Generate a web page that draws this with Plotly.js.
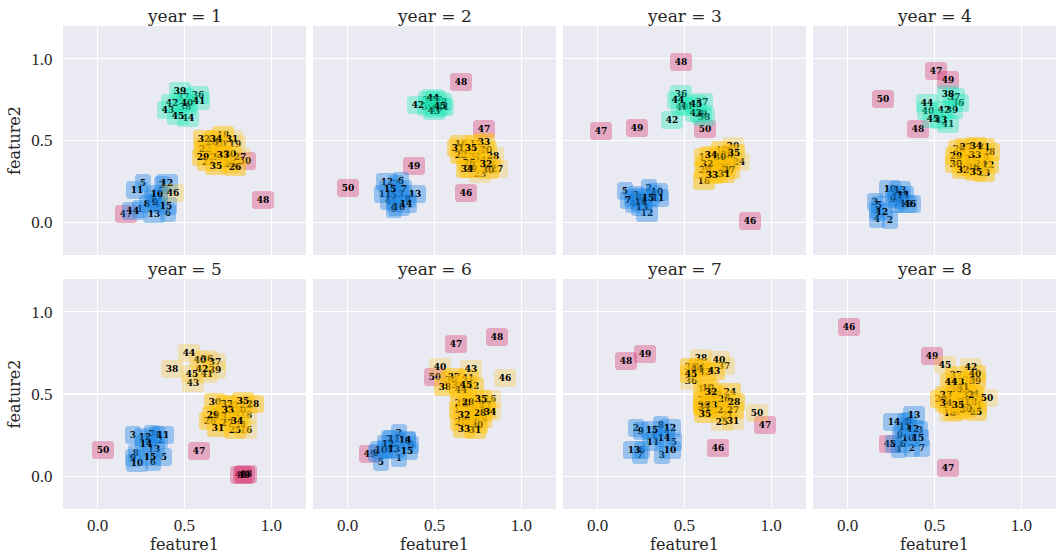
<!DOCTYPE html>
<html>
<head>
<meta charset="utf-8">
<script src="https://cdn.plot.ly/plotly-3.0.1.min.js"></script>
<style>
  html, body { margin: 0; padding: 0; background: #ffffff; }
  #chart { width: 1056px; height: 554px; }
</style>
</head>
<body>
<div id="chart"></div>
<script>
// Point identifiers, shown inside every box
const ids = [1, 2, 3, 4, 5, 6, 7, 8, 9, 10, 11, 12, 13, 14, 15, 16, 17, 18, 19, 20,
             21, 22, 23, 24, 25, 26, 27, 28, 29, 30, 31, 32, 33, 34, 35, 36, 37, 38, 39, 40,
             41, 42, 43, 44, 45, 46, 47, 48, 49, 50];
const years = [1, 2, 3, 4, 5, 6, 7, 8];

// Cluster code per point: b / y / g = cluster, p = weak member, r = noise
const year1X = [0.245, 0.369, 0.312, 0.340, 0.260, 0.407, 0.359, 0.283, 0.331, 0.340,
                0.229, 0.402, 0.327, 0.206, 0.392, 0.627, 0.665, 0.719, 0.790, 0.704,
                0.637, 0.618, 0.742, 0.685, 0.761, 0.792, 0.818, 0.656, 0.604, 0.765,
                0.771, 0.612, 0.719, 0.681, 0.679, 0.576, 0.493, 0.503, 0.474, 0.512,
                0.581, 0.430, 0.407, 0.522, 0.465, 0.432, 0.164, 0.952, 0.700, 0.847];
const year1Y = [0.084, 0.226, 0.145, 0.114, 0.240, 0.057, 0.155, 0.110, 0.124, 0.175,
                0.196, 0.242, 0.053, 0.069, 0.100, 0.460, 0.430, 0.532, 0.481, 0.481,
                0.369, 0.450, 0.379, 0.399, 0.358, 0.338, 0.399, 0.491, 0.399, 0.420,
                0.507, 0.511, 0.413, 0.511, 0.344, 0.776, 0.766, 0.705, 0.800, 0.731,
                0.741, 0.731, 0.686, 0.640, 0.650, 0.179, 0.051, 0.138, 0.420, 0.373];
const year1Cluster = "bbbbbbbbbbbbbbb yyypyyyyyyypyyypyyyy gggggggggg prrrr";

const year2X = [0.265, 0.279, 0.308, 0.231, 0.269, 0.304, 0.323, 0.346, 0.269, 0.298,
                0.212, 0.227, 0.385, 0.337, 0.246, 0.654, 0.740, 0.673, 0.750, 0.798,
                0.731, 0.654, 0.760, 0.760, 0.817, 0.696, 0.862, 0.837, 0.712, 0.808,
                0.635, 0.794, 0.785, 0.687, 0.712, 0.471, 0.510, 0.538, 0.462, 0.510,
                0.548, 0.404, 0.496, 0.490, 0.529, 0.683, 0.787, 0.654, 0.381, 0.000];
const year2Y = [0.124, 0.236, 0.175, 0.128, 0.165, 0.251, 0.206, 0.145, 0.084, 0.094,
                0.175, 0.246, 0.171, 0.110, 0.206, 0.481, 0.481, 0.420, 0.430, 0.440,
                0.399, 0.409, 0.297, 0.379, 0.348, 0.363, 0.326, 0.403, 0.328, 0.318,
                0.456, 0.358, 0.491, 0.328, 0.454, 0.745, 0.745, 0.735, 0.705, 0.695,
                0.705, 0.715, 0.678, 0.760, 0.711, 0.179, 0.568, 0.857, 0.342, 0.212];
const year2Cluster = "bbbbbbbbbbbbbbb yyyyyyypyyyppyyyyyyy gggggggggg rrrrr";

const year3X = [0.195, 0.293, 0.220, 0.201, 0.159, 0.325, 0.176, 0.239, 0.268, 0.340,
                0.348, 0.283, 0.258, 0.249, 0.291, 0.621, 0.688, 0.612, 0.717, 0.780,
                0.669, 0.707, 0.765, 0.813, 0.688, 0.736, 0.755, 0.746, 0.621, 0.707,
                0.727, 0.631, 0.656, 0.650, 0.784, 0.478, 0.602, 0.612, 0.593, 0.488,
                0.516, 0.430, 0.564, 0.465, 0.564, 0.880, 0.019, 0.482, 0.226, 0.618];
const year3Y = [0.149, 0.212, 0.165, 0.114, 0.189, 0.175, 0.134, 0.155, 0.130, 0.185,
                0.149, 0.057, 0.094, 0.124, 0.149, 0.399, 0.379, 0.251, 0.440, 0.464,
                0.338, 0.358, 0.383, 0.369, 0.297, 0.338, 0.318, 0.409, 0.318, 0.399,
                0.293, 0.358, 0.287, 0.409, 0.424, 0.786, 0.735, 0.644, 0.664, 0.705,
                0.709, 0.623, 0.668, 0.749, 0.725, 0.006, 0.556, 0.978, 0.576, 0.572];
const year3Cluster = "bbbbbbbbbbbbbbb yyyypyyypyyyyyyyyyyy gggggggggg rrrrr";

const year4X = [0.170, 0.246, 0.156, 0.166, 0.181, 0.271, 0.281, 0.309, 0.261, 0.246,
                0.290, 0.198, 0.300, 0.319, 0.338, 0.653, 0.700, 0.777, 0.691, 0.643,
                0.710, 0.811, 0.786, 0.767, 0.681, 0.719, 0.681, 0.815, 0.624, 0.624,
                0.786, 0.662, 0.735, 0.739, 0.739, 0.634, 0.615, 0.576, 0.601, 0.462,
                0.576, 0.557, 0.538, 0.456, 0.494, 0.361, 0.506, 0.405, 0.580, 0.204];
const year4Y = [0.077, 0.016, 0.124, 0.022, 0.104, 0.175, 0.114, 0.134, 0.145, 0.206,
                0.155, 0.063, 0.196, 0.165, 0.110, 0.379, 0.358, 0.399, 0.430, 0.450,
                0.389, 0.352, 0.301, 0.358, 0.338, 0.338, 0.460, 0.430, 0.403, 0.358,
                0.460, 0.318, 0.409, 0.466, 0.308, 0.731, 0.766, 0.782, 0.684, 0.678,
                0.603, 0.684, 0.623, 0.731, 0.633, 0.110, 0.925, 0.568, 0.868, 0.756];
const year4Cluster = "bbbbbbbbbbbbbbb yyyyyyyyyyyyyyyyyyyy gggggggggg brrrr";

const year5X = [0.283, 0.359, 0.201, 0.340, 0.384, 0.321, 0.312, 0.222, 0.206, 0.226,
                0.379, 0.270, 0.325, 0.279, 0.302, 0.857, 0.704, 0.857, 0.780, 0.818,
                0.780, 0.857, 0.713, 0.818, 0.790, 0.646, 0.742, 0.895, 0.665, 0.675,
                0.694, 0.742, 0.748, 0.805, 0.837, 0.627, 0.675, 0.430, 0.675, 0.589,
                0.627, 0.602, 0.547, 0.528, 0.541, 0.828, 0.585, 0.857, 0.843, 0.031];
const year5Y = [0.228, 0.217, 0.248, 0.248, 0.116, 0.085, 0.258, 0.142, 0.110, 0.081,
                0.248, 0.240, 0.167, 0.197, 0.116, 0.283, 0.390, 0.370, 0.370, 0.400,
                0.431, 0.431, 0.360, 0.309, 0.278, 0.335, 0.323, 0.441, 0.370, 0.451,
                0.293, 0.437, 0.400, 0.335, 0.457, 0.715, 0.695, 0.654, 0.644, 0.705,
                0.624, 0.654, 0.567, 0.752, 0.624, 0.008, 0.150, 0.014, 0.004, 0.157];
const year5Cluster = "bbbbbbbbbbbbbbb pypyyypyyyyyyyyyyyyy pppppppppp rrrrr";

const year6X = [0.298, 0.298, 0.212, 0.235, 0.192, 0.365, 0.240, 0.346, 0.163, 0.192,
                0.269, 0.231, 0.265, 0.327, 0.342, 0.817, 0.644, 0.712, 0.769, 0.654,
                0.654, 0.712, 0.712, 0.788, 0.750, 0.690, 0.788, 0.760, 0.692, 0.746,
                0.731, 0.669, 0.669, 0.817, 0.769, 0.596, 0.615, 0.558, 0.635, 0.529,
                0.692, 0.721, 0.708, 0.654, 0.683, 0.904, 0.625, 0.862, 0.131, 0.500];
const year6Y = [0.112, 0.264, 0.167, 0.157, 0.085, 0.187, 0.228, 0.211, 0.140, 0.157,
                0.224, 0.197, 0.167, 0.222, 0.152, 0.467, 0.400, 0.360, 0.350, 0.329,
                0.447, 0.329, 0.411, 0.404, 0.431, 0.440, 0.431, 0.386, 0.451, 0.309,
                0.278, 0.370, 0.289, 0.390, 0.467, 0.583, 0.604, 0.543, 0.553, 0.665,
                0.600, 0.549, 0.650, 0.522, 0.553, 0.600, 0.803, 0.848, 0.136, 0.604];
const year6Cluster = "bbbbbbbbbbbbbbb pyyyyyyyyyyyyyyyyypy yyyypyypyy prrrr";

const year7X = [0.325, 0.220, 0.373, 0.402, 0.440, 0.258, 0.245, 0.367, 0.252, 0.417,
                0.321, 0.417, 0.207, 0.382, 0.312, 0.650, 0.707, 0.612, 0.635, 0.612,
                0.746, 0.688, 0.679, 0.765, 0.717, 0.727, 0.778, 0.784, 0.631, 0.612,
                0.778, 0.650, 0.650, 0.612, 0.621, 0.539, 0.730, 0.593, 0.535, 0.698,
                0.587, 0.621, 0.669, 0.574, 0.539, 0.694, 0.966, 0.166, 0.273, 0.918];
const year7Y = [0.248, 0.293, 0.126, 0.268, 0.207, 0.157, 0.130, 0.313, 0.272, 0.161,
                0.207, 0.293, 0.161, 0.234, 0.278, 0.482, 0.431, 0.533, 0.537, 0.461,
                0.370, 0.400, 0.492, 0.512, 0.329, 0.467, 0.400, 0.451, 0.411, 0.431,
                0.335, 0.512, 0.431, 0.420, 0.380, 0.579, 0.671, 0.720, 0.665, 0.705,
                0.665, 0.634, 0.638, 0.654, 0.624, 0.171, 0.313, 0.699, 0.746, 0.386];
const year7Cluster = "bbbbbbbbbbbbbbb yyyyyyyyypyyyyypyyyy pppypyyyyy rrrrp";

const year8X = [0.296, 0.370, 0.414, 0.328, 0.258, 0.319, 0.429, 0.353, 0.300, 0.347,
                0.328, 0.376, 0.382, 0.265, 0.405, 0.615, 0.653, 0.592, 0.719, 0.700,
                0.738, 0.605, 0.672, 0.719, 0.738, 0.643, 0.586, 0.710, 0.538, 0.681,
                0.672, 0.691, 0.567, 0.567, 0.634, 0.624, 0.624, 0.700, 0.735, 0.735,
                0.662, 0.710, 0.634, 0.595, 0.563, 0.010, 0.576, 0.246, 0.487, 0.805];
const year8Y = [0.167, 0.171, 0.278, 0.329, 0.193, 0.197, 0.171, 0.335, 0.248, 0.234,
                0.299, 0.285, 0.370, 0.329, 0.234, 0.390, 0.472, 0.384, 0.472, 0.431,
                0.431, 0.472, 0.522, 0.502, 0.390, 0.400, 0.431, 0.451, 0.472, 0.411,
                0.451, 0.496, 0.496, 0.447, 0.431, 0.533, 0.614, 0.583, 0.579, 0.624,
                0.543, 0.665, 0.573, 0.573, 0.675, 0.909, 0.049, 0.193, 0.732, 0.476];
const year8Cluster = "bbbbbbbbbbbbbbb yypyyyyyyyyyyyyyyyyy yyyyyypyyp rrrrp";

const yearX = [year1X, year2X, year3X, year4X, year5X, year6X, year7X, year8X];
const yearY = [year1Y, year2Y, year3Y, year4Y, year5Y, year6Y, year7Y, year8Y];
const yearCluster = [year1Cluster, year2Cluster, year3Cluster, year4Cluster,
                     year5Cluster, year6Cluster, year7Cluster, year8Cluster]
  .map(s => s.split(' ').join(''));

// Box fill per cluster code
const palette = {
  b: 'rgba(30,136,229,0.40)',
  y: 'rgba(255,193,7,0.50)',
  p: 'rgba(255,193,7,0.26)',
  g: 'rgba(29,233,182,0.36)',
  r: 'rgba(216,27,96,0.32)'
};

const TEXT = '#262626';
const colDomains = [[0, 0.2447], [0.2518, 0.4965], [0.5035, 0.7482], [0.7553, 1]];
const rowDomains = [[0.5259, 1], [0, 0.4762]];

const layout = {
  width: 1056, height: 554,
  margin: { l: 63, r: 0, t: 26, b: 45 },
  paper_bgcolor: '#ffffff',
  plot_bgcolor: '#eaeaf2',
  showlegend: false,
  annotations: []
};
const traces = [];

years.forEach((yr, k) => {
  const col = k % 4, row = Math.floor(k / 4);
  const sfx = k === 0 ? '' : String(k + 1);
  const xa = 'x' + sfx, ya = 'y' + sfx;

  layout['xaxis' + sfx] = {
    domain: colDomains[col], anchor: ya, range: [-0.2, 1.2],
    tick0: 0, dtick: 0.5, tickformat: '.1f',
    showgrid: true, gridcolor: '#ffffff', gridwidth: 1.1, zeroline: false,
    showline: false, ticks: 'outside', ticklen: 1, tickcolor: 'rgba(0,0,0,0)',
    showticklabels: row === 1,
    tickfont: { family: 'Liberation Serif', size: 17, color: TEXT },
    title: row === 1 ? { text: 'feature1', standoff: 5,
      font: { family: 'DejaVu Serif', size: 16, color: TEXT } } : { text: '' },
    fixedrange: true
  };
  if (k > 0) layout['xaxis' + sfx].matches = 'x';

  layout['yaxis' + sfx] = {
    domain: rowDomains[row], anchor: xa, range: [-0.2, 1.2],
    tick0: 0, dtick: 0.5, tickformat: '.1f',
    showgrid: true, gridcolor: '#ffffff', gridwidth: 1.1, zeroline: false,
    showline: false, ticks: 'outside', ticklen: 6, tickcolor: 'rgba(0,0,0,0)',
    showticklabels: col === 0,
    tickfont: { family: 'Liberation Serif', size: 17, color: TEXT },
    title: col === 0 ? { text: 'feature2', standoff: 6,
      font: { family: 'DejaVu Serif', size: 16, color: TEXT } } : { text: '' },
    fixedrange: true
  };
  if (k > 0) layout['yaxis' + sfx].matches = 'y';

  // invisible anchor trace so every panel owns its points
  traces.push({
    type: 'scatter', mode: 'markers', xaxis: xa, yaxis: ya,
    x: yearX[k], y: yearY[k], text: ids.map(String),
    marker: { size: 1, opacity: 0 }, hoverinfo: 'text'
  });

  // panel title
  layout.annotations.push({
    xref: 'paper', yref: 'paper',
    x: (colDomains[col][0] + colDomains[col][1]) / 2, y: rowDomains[row][1],
    xanchor: 'center', yanchor: 'bottom', yshift: -2, showarrow: false,
    text: 'year = ' + yr,
    font: { family: 'DejaVu Serif', size: 17, color: TEXT }
  });

  // labelled boxes: noise points first, cluster members drawn over them
  const order = ids.map((id, i) => i);
  order.sort((a, b) => (yearCluster[k][a] === 'r' ? 0 : 1) - (yearCluster[k][b] === 'r' ? 0 : 1) || a - b);
  order.forEach(i => {
    const label = String(ids[i]);
    layout.annotations.push({
      xref: xa, yref: ya, x: yearX[k][i], y: yearY[k][i],
      xanchor: 'center', yanchor: 'middle', showarrow: false,
      text: label,
      width: label.length > 1 ? 22 : 16, height: 18,
      borderpad: 0, borderwidth: 0,
      bgcolor: palette[yearCluster[k][i]],
      font: { family: 'DejaVu Serif', size: 9, weight: 'bold', color: '#000000' }
    });
  });
});

Plotly.newPlot('chart', traces, layout, { staticPlot: true, displayModeBar: false })
  .then(gd => {
    // soften box corners
    gd.querySelectorAll('g.annotation rect.bg').forEach(r => {
      r.setAttribute('rx', 3.5);
      r.setAttribute('ry', 3.5);
    });
  });
</script>
</body>
</html>
